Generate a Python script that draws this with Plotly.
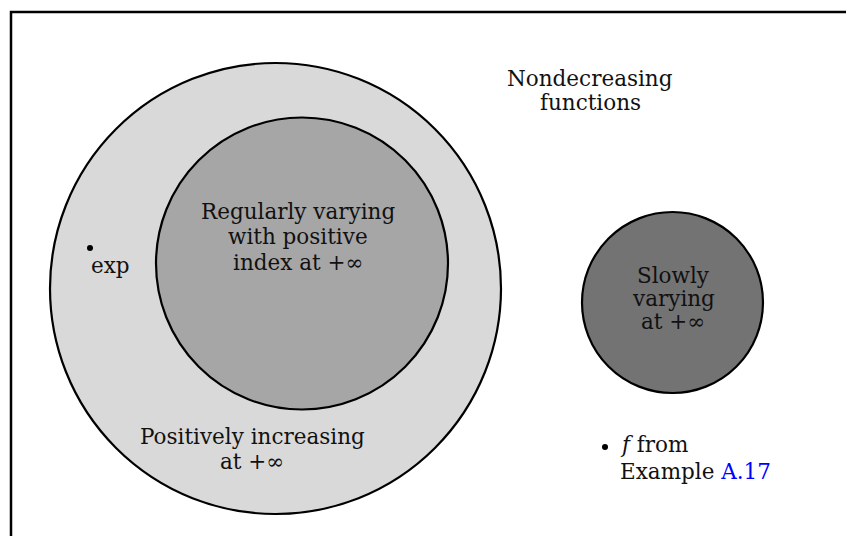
import plotly.graph_objects as go

# Sets drawn as circles (pixel-like coordinate space of the diagram)
set_names = ["Positively increasing", "Regularly varying", "Slowly varying"]
set_cx = [275.5, 302, 672.5]
set_cy = [288.5, 263.5, 302.5]
set_r = [225.5, 146, 90.5]
set_fill = ["#d9d9d9", "#a6a6a6", "#737373"]

# Centered labels, one entry per text line
label_lines = [
    "Nondecreasing", "functions",
    "Regularly varying", "with positive", "index at +∞",
    "Slowly", "varying", "at +∞",
    "Positively increasing", "at +∞",
]
label_x = [590, 590, 298, 298, 298, 673, 673, 673, 252, 252]
label_y = [78, 102, 211, 236, 262, 275, 298, 321, 436, 461]

# Points (elements) and their left-aligned labels
point_names = ["exp", "f"]
point_x = [90, 605]
point_y = [248, 447]
point_label_lines = ["exp", "<i>f</i> from", "Example <span style='color:#0000ff'>A.17</span>"]
point_label_x = [89, 618, 618]
point_label_y = [265, 444, 471]

W, H = 854, 536
OFF = 8  # page offset of the figure inside the browser body
FONT = "DejaVu Serif"
FS = 21.5

fig = go.Figure()

# outer frame (rectangle partly clipped by the view)
fig.add_shape(type="rect", x0=11, y0=12, x1=880, y1=580,
              line=dict(color="black", width=2.5), fillcolor="white", layer="below")

for cx, cy, r, c in zip(set_cx, set_cy, set_r, set_fill):
    fig.add_shape(type="circle", x0=cx - r, x1=cx + r, y0=cy - r, y1=cy + r,
                  line=dict(color="black", width=2.2), fillcolor=c, layer="below")

fig.add_trace(go.Scatter(x=point_x, y=point_y, mode="markers",
                         marker=dict(color="black", size=6), hoverinfo="skip",
                         showlegend=False))

for t, x, y in zip(label_lines, label_x, label_y):
    fig.add_annotation(x=x, y=y, text=t, showarrow=False, xanchor="center",
                       yanchor="middle", align="center",
                       font=dict(family=FONT, size=FS, color="#111"))

for t, x, y in zip(point_label_lines, point_label_x, point_label_y):
    fig.add_annotation(x=x, y=y, text=t, showarrow=False, xanchor="left",
                       yanchor="middle", align="left",
                       font=dict(family=FONT, size=FS, color="#111"))

fig.update_xaxes(range=[OFF, W], visible=False, fixedrange=True)
fig.update_yaxes(range=[H, OFF], visible=False, fixedrange=True)
fig.update_layout(width=W - OFF, height=H - OFF, margin=dict(l=0, r=0, t=0, b=0),
                  paper_bgcolor="white", plot_bgcolor="white")

fig.write_html("out.html")
